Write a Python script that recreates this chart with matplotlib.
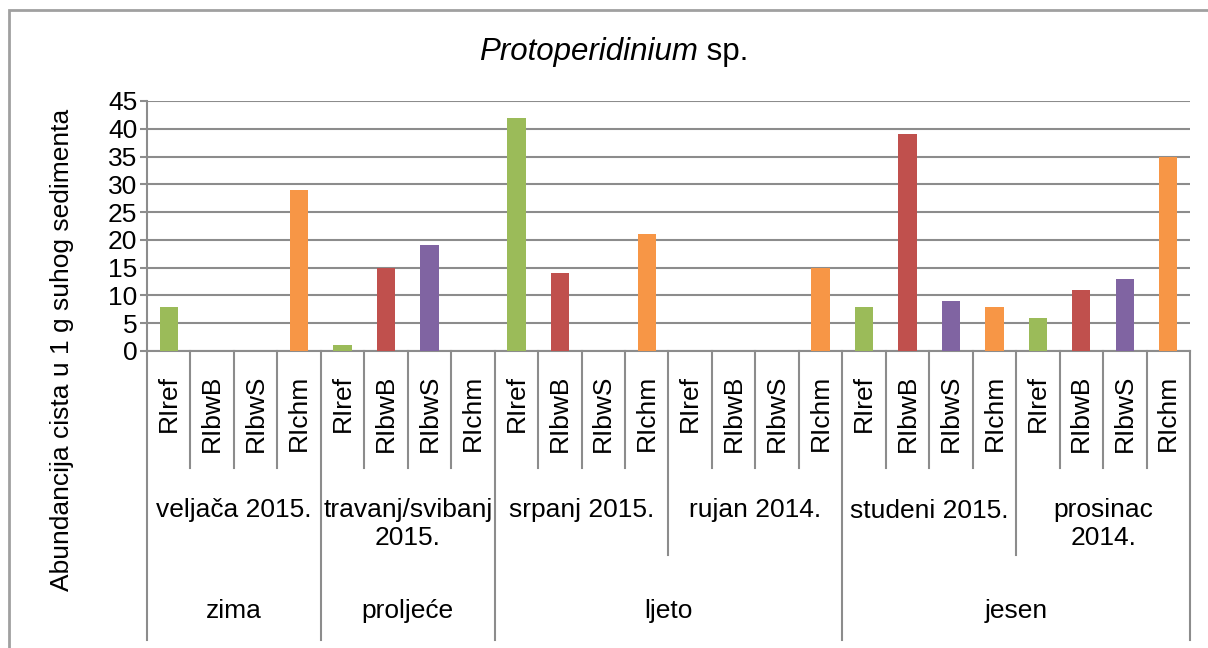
import matplotlib
matplotlib.use('Agg')
import matplotlib.pyplot as plt
import matplotlib.transforms as transforms
from matplotlib.patches import Rectangle

plt.rcParams['font.family'] = ['Liberation Sans', 'DejaVu Sans']

# data (abundance of cysts per 1 g of dry sediment)
sites = ['RIref', 'RIbwB', 'RIbwS', 'RIchm']
months = ['veljača 2015.', 'travanj/svibanj\n2015.', 'srpanj 2015.',
          'rujan 2014.', 'studeni 2015.', 'prosinac\n2014.']
seasons = ['zima', 'proljeće', 'ljeto', 'jesen']
months_per_season = [1, 1, 2, 2]
values = [8, 0, 0, 29,
          1, 15, 19, 0,
          42, 14, 0, 21,
          0, 0, 0, 15,
          8, 39, 9, 8,
          6, 11, 13, 35]

site_colors = ['#9BBB59', '#C0504D', '#8064A2', '#F79646']
gray = '#8c8c8c'
fs = 19

fig = plt.figure(figsize=(12.08, 6.48), dpi=100)
ax = fig.add_axes([147 / 1208, 297 / 648, (1190 - 147) / 1208, 250 / 648])

n = len(values)
x = list(range(n))
colors = [site_colors[i % len(sites)] for i in range(n)]
ax.bar(x, values, width=0.42, color=colors, zorder=3)

ax.set_xlim(-0.5, n - 0.5)
ax.set_ylim(0, 45)
ax.set_yticks(range(0, 46, 5))
ax.set_xticks([])
ax.yaxis.grid(True, color=gray, linewidth=1.5)
ax.set_axisbelow(True)
for side in ['top', 'right']:
    ax.spines[side].set_visible(False)
ax.spines['left'].set_color(gray)
ax.spines['bottom'].set_color(gray)
ax.spines['left'].set_linewidth(1.5)
ax.spines['bottom'].set_linewidth(1.5)
ax.tick_params(axis='y', length=5, width=1.5, color=gray, labelsize=fs, pad=2)

# multi-level category axis below the plot
trans = transforms.blended_transform_factory(ax.transData, ax.transAxes)
d1, d2, d3 = -0.468, -0.816, -1.156
season_edges = [0]
for k in months_per_season:
    season_edges.append(season_edges[-1] + k * len(sites))
for b in range(n + 1):
    if b % len(sites) != 0:
        depth = d1
    elif b in season_edges:
        depth = d3
    else:
        depth = d2
    ax.plot([b - 0.5, b - 0.5], [0, depth], color=gray, linewidth=1.5,
            transform=trans, clip_on=False)

for i in range(n):
    ax.text(i, -0.096, sites[i % len(sites)], rotation=90, ha='center',
            va='top', fontsize=fs, transform=trans)

for j, m in enumerate(months):
    ax.text(j * len(sites) + 1.5, -0.59, m, ha='center', va='top',
            fontsize=fs, linespacing=1.2, transform=trans)

for s, lo, hi in zip(seasons, season_edges[:-1], season_edges[1:]):
    ax.text((lo + hi) / 2 - 0.5, -1.068, s, ha='center', va='baseline',
            fontsize=fs, transform=trans)

fig.text(62 / 1208, 1 - 350 / 648, 'Abundancija cista u 1 g suhog sedimenta',
         rotation=90, ha='center', va='center', fontsize=fs)

# title: italic genus name followed by plain "sp."
title_y = 1 - 60 / 648
t1 = fig.text(0, title_y, 'Protoperidinium', style='italic', fontsize=22.5,
              va='baseline')
t2 = fig.text(0, title_y, ' sp.', fontsize=22.5, va='baseline')
renderer = fig.canvas.get_renderer()
w1 = t1.get_window_extent(renderer).width
w2 = t2.get_window_extent(renderer).width
x0 = 614 - (w1 + w2) / 2
t1.set_x(x0 / 1208)
t2.set_x((x0 + w1) / 1208)

# chart border
fig.add_artist(Rectangle((9 / 1208, -0.1), 1.1, 1 - 10 / 648 + 0.1,
                         transform=fig.transFigure, fill=False,
                         edgecolor='#a0a0a0', linewidth=2))

fig.savefig('out.png', dpi=100)
